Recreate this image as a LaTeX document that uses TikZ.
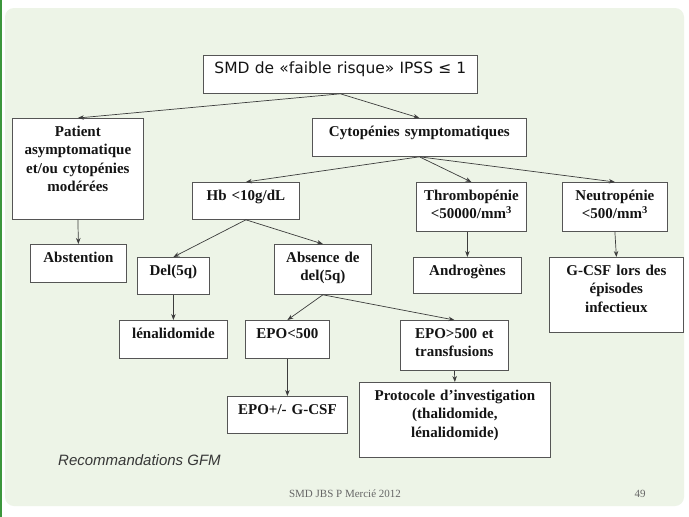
\documentclass[tikz,border=0pt]{standalone}
\usepackage{fontspec}
\setmainfont{Liberation Serif}
\newfontfamily\comicfont{DejaVu Sans}
\newfontfamily\notefont{Liberation Sans}
\usetikzlibrary{arrows.meta}

\definecolor{slidebg}{RGB}{237,244,231}
\definecolor{edgegreen}{RGB}{60,150,60}
\definecolor{boxline}{RGB}{85,85,85}
\definecolor{linkcol}{RGB}{60,60,60}
\definecolor{inkcol}{RGB}{20,20,20}

\tikzset{
  cell/.style 2 args={draw=boxline, fill=white, line width=0.8pt, anchor=north west,
    inner sep=0pt, align=center, text width=#1, text height=18pt, text depth=#2,
    font=\bfseries\fontsize{15}{18.5}\selectfont, text=inkcol},
  link/.style={-{Stealth[length=6pt,width=4.5pt]}, line width=0.7pt, draw=linkcol},
}

\begin{document}
\begin{tikzpicture}[x=1pt, y=-1pt]
  \useasboundingbox (0,0) rectangle (689,517);
  \fill[white] (0,0) rectangle (689,517);
  \fill[slidebg, rounded corners=9pt] (5,8) rectangle (684,506);
  \draw[edgegreen, line width=1.5pt] (1,0) -- (1,517);

  % decision boxes
  \node[cell={274pt}{20pt}, font=\comicfont\fontsize{15.5}{18}\selectfont] (risk) at (203,55) {SMD de «faible risque» IPSS ≤ 1};

  \node[cell={131pt}{83pt}] (patient) at (12,118) {Patient\\asymptomatique\\et/ou cytopénies\\modérées};
  \node[cell={96pt}{20pt}] (abst) at (30,244) {Abstention};

  \node[cell={214pt}{20pt}] (cyto) at (312,118) {Cytopénies symptomatiques};
  \node[cell={107pt}{19pt}] (hb) at (192,182) {Hb <10g/dL};
  \node[cell={110pt}{31pt}] (thromb) at (416,182) {Thrombopénie\\<50000/mm\textsuperscript{3}};
  \node[cell={105pt}{31pt}] (neutro) at (562,182) {Neutropénie\\<500/mm\textsuperscript{3}};

  \node[cell={72pt}{19pt}] (del) at (137,257) {Del(5q)};
  \node[cell={97pt}{32pt}] (nodel) at (274,244) {Absence de\\del(5q)};
  \node[cell={108pt}{18pt}] (andro) at (413,257) {Androgènes};
  \node[cell={134pt}{57pt}] (gcsf) at (549,257) {G-CSF lors des\\épisodes\\infectieux};

  \node[cell={108pt}{20pt}] (lena) at (119,320) {lénalidomide};
  \node[cell={84pt}{20pt}] (epolow) at (245,320) {EPO<500};
  \node[cell={108pt}{32pt}] (epohigh) at (400,320) {EPO>500 et\\transfusions};

  \node[cell={120pt}{19pt}] (epogcsf) at (227,396) {EPO+/- G-CSF};
  \node[cell={191pt}{57pt}] (proto) at (359,382) {Protocole d’investigation\\(thalidomide,\\lénalidomide)};

  % arrows
  \draw[link] (risk.south) -- (patient.north);
  \draw[link] (risk.south) -- (cyto.north);
  \draw[link] (patient.south) -- (abst.north);
  \draw[link] (cyto.south) -- (hb.north);
  \draw[link] (cyto.south) -- (thromb.north);
  \draw[link] (cyto.south) -- (neutro.north);
  \draw[link] (hb.south) -- (del.north);
  \draw[link] (hb.south) -- (nodel.north);
  \draw[link] (andro.north |- thromb.south) -- (andro.north);
  \draw[link] (neutro.south) -- (gcsf.north);
  \draw[link] (del.south) -- (lena.north);
  \draw[link] (nodel.south) -- (epolow.north);
  \draw[link] (nodel.south) -- (epohigh.north);
  \draw[link] (epolow.south) -- (epogcsf.north);
  \draw[link] (epohigh.south) -- (proto.north);

  % notes
  \node[anchor=base west, inner sep=0pt, font=\notefont\itshape\fontsize{15}{18}\selectfont, text=inkcol!85] (reco) at (58,465) {Recommandations GFM};
  \node[anchor=base, inner sep=0pt, font=\fontsize{11}{13}\selectfont, text=black!60] (foot) at (345,497) {SMD JBS P Mercié 2012};
  \node[anchor=base, inner sep=0pt, font=\fontsize{11}{13}\selectfont, text=black!60] (page) at (640,497) {49};
\end{tikzpicture}
\end{document}
